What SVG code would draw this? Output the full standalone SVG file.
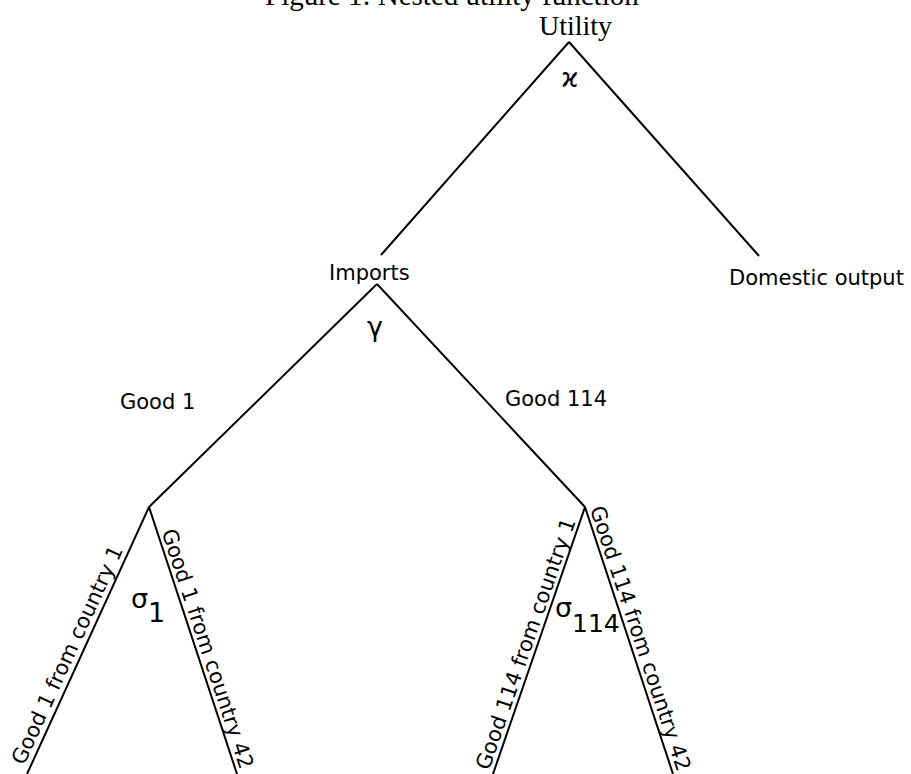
<svg xmlns="http://www.w3.org/2000/svg" width="911" height="774" viewBox="0 0 911 774">
<style>
.serif{font-family:"Liberation Serif","Times New Roman",serif;fill:#000}
.lbl{font-family:"DejaVu Sans","Noto Sans",sans-serif;font-size:21px;fill:#000}
.par{font-family:"DejaVu Sans","Noto Sans",sans-serif;fill:#000}
.edge{stroke:#000;stroke-width:2;fill:none;stroke-linecap:butt}
</style>
<rect width="911" height="774" fill="#fff"/>
<text id="title" class="serif" x="265" y="5" font-size="29">Figure 1: Nested utility function</text>
<g id="connectors">
<line class="edge" x1="569" y1="42" x2="381" y2="255"/>
<line class="edge" x1="569" y1="42" x2="759" y2="256"/>
<line class="edge" x1="377" y1="284" x2="149" y2="507"/>
<line class="edge" x1="377" y1="284" x2="585" y2="507"/>
<line class="edge" x1="149" y1="507" x2="27" y2="774"/>
<line class="edge" x1="149" y1="507" x2="237" y2="774"/>
<line class="edge" x1="585" y1="507" x2="493" y2="774"/>
<line class="edge" x1="585" y1="507" x2="673" y2="774"/>
</g>
<g id="utility">
<text class="serif" x="539" y="35" font-size="28">Utility</text>
<text class="par" x="570" y="87" font-size="26" text-anchor="middle">ϰ</text>
</g>
<g id="imports">
<text class="lbl" x="329" y="280">Imports</text>
<text class="par" x="375" y="336" font-size="27" text-anchor="middle">γ</text>
</g>
<g id="domestic">
<text class="lbl" x="729" y="285">Domestic output</text>
</g>
<g id="good1">
<text class="lbl" x="120" y="409">Good 1</text>
<text class="par" x="131" y="608" font-size="27">σ</text>
<text class="par" x="148" y="622" font-size="27">1</text>
</g>
<g id="good114">
<text class="lbl" x="505" y="406">Good 114</text>
<text class="par" x="555" y="617" font-size="27">σ</text>
<text class="par" x="572" y="632" font-size="25">114</text>
</g>
<g id="leaf-g1-c1">
<text class="lbl" transform="translate(24,766) rotate(-65.3)">Good 1 from country 1</text>
</g>
<g id="leaf-g1-c42">
<text class="lbl" transform="translate(161.4,531.7) rotate(71.7)">Good 1 from country 42</text>
</g>
<g id="leaf-g114-c1">
<text class="lbl" transform="translate(489,771) rotate(-70.85)">Good 114 from country 1</text>
</g>
<g id="leaf-g114-c42">
<text class="lbl" transform="translate(589.8,508.7) rotate(71.6)">Good 114 from country 42</text>
</g>
</svg>
